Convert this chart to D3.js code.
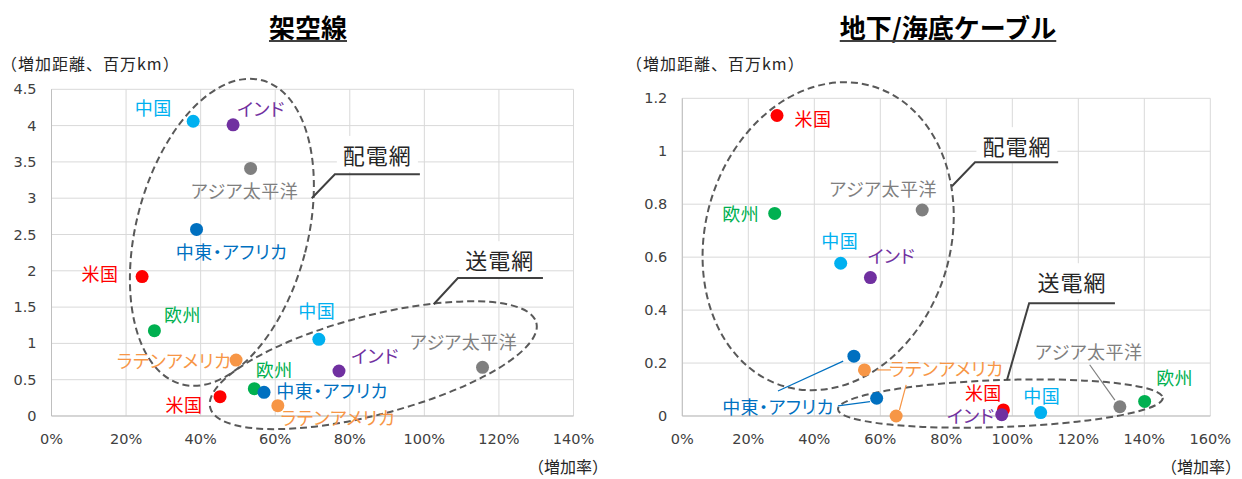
<!DOCTYPE html>
<html>
<head>
<meta charset="utf-8">
<script src="https://cdn.jsdelivr.net/npm/d3@7"></script>
<style>
  body { margin: 0; background: #fff; }
  svg { display: block; }
  text { font-family: "Noto Sans CJK JP", "Noto Sans", sans-serif; font-feature-settings: "palt" 1; }
  .tick-label { font-family: "DejaVu Sans", sans-serif; font-feature-settings: normal; }
</style>
</head>
<body>
<svg id="chart" width="1242" height="479"></svg>
<script>
// ---- data ----------------------------------------------------------------
const regions = ["米国", "欧州", "中国", "インド", "アジア太平洋", "中東・アフリカ", "ラテンアメリカ"];
const regionColors = ["#FF0000", "#00B050", "#00B0F0", "#7030A0", "#7F7F7F", "#0070C0", "#F79646"];

// 架空線: increase rate (%) and added length (million km)
const overheadDistRate  = [24.3, 27.6, 38.0, 48.7, 53.4, 38.9, 49.5];
const overheadDistLen   = [1.92, 1.175, 4.06, 4.01, 3.41, 2.57, 0.77];
const overheadTransRate = [45.2, 54.4, 71.7, 77.1, 115.6, 57.0, 60.7];
const overheadTransLen  = [0.266, 0.376, 1.056, 0.62, 0.67, 0.326, 0.142];

// 地下/海底ケーブル
const cableDistRate  = [28.7, 28.0, 48.0, 57.0, 72.7, 52.0, 55.2];
const cableDistLen   = [1.135, 0.765, 0.577, 0.523, 0.778, 0.226, 0.174];
const cableTransRate = [97.3, 140.1, 108.6, 96.8, 132.6, 58.9, 64.8];
const cableTransLen  = [0.023, 0.055, 0.013, 0.005, 0.035, 0.067, 0.0];

const overheadRateTicks = [0, 20, 40, 60, 80, 100, 120, 140];
const overheadLenTicks  = [0, 0.5, 1, 1.5, 2, 2.5, 3, 3.5, 4, 4.5];
const cableRateTicks = [0, 20, 40, 60, 80, 100, 120, 140, 160];
const cableLenTicks  = [0, 0.2, 0.4, 0.6, 0.8, 1, 1.2];

const panelTitles = ["架空線", "地下/海底ケーブル"];
const groupNames = ["配電網", "送電網"];
const yAxisTitle = "（増加距離、百万km）";
const xAxisTitle = "（増加率）";

// ---- drawing -------------------------------------------------------------
const svg = d3.select("#chart");

function rows(rate, len) {
  return regions.map((r, i) => ({ region: r, color: regionColors[i], x: rate[i], y: len[i] }));
}

// label placement (pixel offsets from each point)
const overheadLabels = {
  dist: {
    "中国": [-40, -14], "インド": [28, -17], "アジア太平洋": [-6, 22], "中東・アフリカ": [35, 22],
    "米国": [-42, -4], "欧州": [28, -17], "ラテンアメリカ": [-62, 0]
  },
  trans: {
    "中国": [-2, -29], "インド": [36, -16], "アジア太平洋": [-19, -26], "中東・アフリカ": [68, -2],
    "米国": [-36, 7], "欧州": [20, -20], "ラテンアメリカ": [60, 11]
  }
};
const cableLabels = {
  dist: {
    "米国": [36, 2], "欧州": [-34, 0], "アジア太平洋": [-39, -22], "中国": [-1, -23], "インド": [21, -23]
  },
  trans: {
    "米国": [-20, -18], "インド": [-31, 0], "中国": [1, -18], "アジア太平洋": [-31, -56], "欧州": [30, -24]
  }
};

const panels = [
  {
    title: panelTitles[0], titleX: 308,
    xRange: [51.5, 573.5], yRange: [416, 89.3],
    xDomain: [0, 140], yDomain: [0, 4.5],
    xTicks: overheadRateTicks, yTicks: overheadLenTicks,
    yTitleX: 1, xTitleX: 608,
    dist: rows(overheadDistRate, overheadDistLen),
    trans: rows(overheadTransRate, overheadTransLen),
    labels: overheadLabels,
    ellipses: [
      { cx: 45.7, cy: 2.53, rx: 85.6, ry: 157.2, rot: 14.8 },
      { cx: 86.3, cy: 0.70, rx: 168.5, ry: 49.4, rot: -14.6 }
    ],
    callouts: [
      { name: groupNames[0], path: [[69.8, 3.00], [76.0, 3.33], [98.8, 3.33]], text: [87.4, 3.61] },
      { name: groupNames[1], path: [[102.5, 1.54], [109.0, 1.90], [131.8, 1.90]], text: [120.2, 2.16] }
    ],
    shared: [],
    leaders: []
  },
  {
    title: panelTitles[1], titleX: 948,
    xRange: [682.3, 1210.3], yRange: [416, 98.3],
    xDomain: [0, 160], yDomain: [0, 1.2],
    xTicks: cableRateTicks, yTicks: cableLenTicks,
    yTitleX: 626, xTitleX: 1241,
    dist: rows(cableDistRate, cableDistLen),
    trans: rows(cableTransRate, cableTransLen),
    labels: cableLabels,
    ellipses: [
      { cx: 44.2, cy: 0.679, rx: 122.6, ry: 156.4, rot: 16.3 },
      { cx: 96.4, cy: 0.047, rx: 162.5, ry: 23.5, rot: -2 }
    ],
    callouts: [
      { name: groupNames[0], path: [[81.7, 0.868], [88.7, 0.958], [113.9, 0.958]], text: [101.4, 1.023] },
      { name: groupNames[1], path: [[98.4, 0.136], [105.1, 0.426], [131.1, 0.426]], text: [118.1, 0.509] }
    ],
    // one label shared by both groups, with a leader line to each point
    shared: [
      { region: "中東・アフリカ", from: "trans", off: [-98.7, 7.7],
        lines: [ { group: "dist", a: [0, -15], b: [-10.7, 5] }, { group: "trans", a: [60, 0], b: [-6.7, 3.4] } ] },
      { region: "ラテンアメリカ", from: "dist", off: [81.7, -2],
        lines: [ { group: "dist", a: [-55.3, 2], b: [12.7, 0] }, { group: "trans", a: [-40, 17], b: [3.3, -6] } ] }
    ],
    leaders: [ { region: "アジア太平洋", group: "trans", a: [0.8, 14], b: [-5, -6.7] } ]
  }
];

panels.forEach(p => {
  const x = d3.scaleLinear().domain(p.xDomain).range(p.xRange);
  const y = d3.scaleLinear().domain(p.yDomain).range(p.yRange);
  const g = svg.append("g");

  // title with underline
  const t = g.append("text")
    .attr("x", p.titleX).attr("y", 26.5)
    .attr("text-anchor", "middle").attr("dominant-baseline", "central")
    .attr("font-size", 26).attr("font-weight", "bold").attr("fill", "#000")
    .style("font-feature-settings", "normal")
    .text(p.title);
  const tb = t.node().getBBox();
  g.append("line")
    .attr("x1", tb.x).attr("x2", tb.x + tb.width)
    .attr("y1", 41).attr("y2", 41)
    .attr("stroke", "#404040").attr("stroke-width", 2);

  // grid
  g.append("g").selectAll("line.v").data(p.xTicks).join("line")
    .attr("x1", d => x(d)).attr("x2", d => x(d))
    .attr("y1", p.yRange[0]).attr("y2", p.yRange[1])
    .attr("stroke", "#D9D9D9").attr("stroke-width", 1);
  g.append("g").selectAll("line.h").data(p.yTicks).join("line")
    .attr("x1", p.xRange[0]).attr("x2", p.xRange[1])
    .attr("y1", d => y(d)).attr("y2", d => y(d))
    .attr("stroke", "#D9D9D9").attr("stroke-width", 1);
  // axis lines
  g.append("line").attr("x1", p.xRange[0]).attr("x2", p.xRange[1])
    .attr("y1", p.yRange[0]).attr("y2", p.yRange[0]).attr("stroke", "#BFBFBF");
  g.append("line").attr("x1", p.xRange[0]).attr("x2", p.xRange[0])
    .attr("y1", p.yRange[0]).attr("y2", p.yRange[1]).attr("stroke", "#BFBFBF");

  // tick labels
  g.append("g").selectAll("text").data(p.yTicks).join("text")
    .attr("class", "tick-label")
    .attr("x", p.xRange[0] - 15).attr("y", d => y(d))
    .attr("text-anchor", "end").attr("dominant-baseline", "central")
    .attr("font-size", 14.5).attr("fill", "#404040")
    .text(d => d3.format("~g")(d));
  g.append("g").selectAll("text").data(p.xTicks).join("text")
    .attr("class", "tick-label")
    .attr("x", d => x(d)).attr("y", 439)
    .attr("text-anchor", "middle").attr("dominant-baseline", "central")
    .attr("font-size", 14.5).attr("fill", "#404040")
    .text(d => d + "%");

  // axis titles
  g.append("text").attr("x", p.yTitleX).attr("y", 62.5)
    .attr("text-anchor", "start").attr("dominant-baseline", "central")
    .attr("font-size", 16).attr("letter-spacing", 1).attr("fill", "#262626")
    .style("font-feature-settings", "normal")
    .text(yAxisTitle);
  g.append("text").attr("x", p.xTitleX).attr("y", 466)
    .attr("text-anchor", "end").attr("dominant-baseline", "central")
    .attr("font-size", 16).attr("fill", "#262626")
    .style("font-feature-settings", "normal")
    .text(xAxisTitle);

  // dashed group ellipses
  p.ellipses.forEach(e => {
    const ex = x(e.cx), ey = y(e.cy);
    g.append("ellipse")
      .attr("cx", 0).attr("cy", 0).attr("rx", e.rx).attr("ry", e.ry)
      .attr("transform", `translate(${ex},${ey}) rotate(${e.rot})`)
      .attr("fill", "none").attr("stroke", "#595959")
      .attr("stroke-width", 2).attr("stroke-dasharray", "7,4");
  });

  // callouts naming each group
  p.callouts.forEach(c => {
    const txt = g.append("text")
      .attr("x", x(c.text[0])).attr("y", y(c.text[1]))
      .attr("text-anchor", "middle").attr("dominant-baseline", "central")
      .attr("font-size", 22).attr("letter-spacing", 1).attr("fill", "#262626")
      .style("font-feature-settings", "normal")
      .text(c.name);
    const bb = txt.node().getBBox();
    g.insert("rect", () => txt.node())
      .attr("x", bb.x - 6).attr("y", bb.y - 2)
      .attr("width", bb.width + 12).attr("height", bb.height + 4)
      .attr("fill", "#fff");
    g.append("path")
      .attr("d", d3.line().x(d => x(d[0])).y(d => y(d[1]))(c.path))
      .attr("fill", "none").attr("stroke", "#404040").attr("stroke-width", 2);
  });

  const byRegion = group => Object.fromEntries(p[group].map(d => [d.region, d]));
  const pts = { dist: byRegion("dist"), trans: byRegion("trans") };

  // leader lines
  p.leaders.forEach(l => {
    const d = pts[l.group][l.region];
    const off = p.labels[l.group][l.region];
    const px = x(d.x), py = y(d.y);
    g.append("line")
      .attr("x1", px + off[0] + l.a[0]).attr("y1", py + off[1] + l.a[1])
      .attr("x2", px + l.b[0]).attr("y2", py + l.b[1])
      .attr("stroke", d.color).attr("stroke-width", 1.2);
  });
  p.shared.forEach(s => {
    const base = pts[s.from][s.region];
    const lx = x(base.x) + s.off[0], ly = y(base.y) + s.off[1];
    s.lines.forEach(l => {
      const d = pts[l.group][s.region];
      g.append("line")
        .attr("x1", lx + l.a[0]).attr("y1", ly + l.a[1])
        .attr("x2", x(d.x) + l.b[0]).attr("y2", y(d.y) + l.b[1])
        .attr("stroke", d.color).attr("stroke-width", 1.2);
    });
    g.append("text")
      .attr("x", lx).attr("y", ly)
      .attr("text-anchor", "middle").attr("dominant-baseline", "central")
      .attr("font-size", 18).attr("letter-spacing", 0.5).attr("fill", base.color)
      .text(s.region);
  });

  // points and their labels
  ["dist", "trans"].forEach(group => {
    g.append("g").selectAll("circle").data(p[group]).join("circle")
      .attr("cx", d => x(d.x)).attr("cy", d => y(d.y)).attr("r", 6.5)
      .attr("fill", d => d.color);
    g.append("g").selectAll("text")
      .data(p[group].filter(d => p.labels[group][d.region]))
      .join("text")
      .attr("x", d => x(d.x) + p.labels[group][d.region][0])
      .attr("y", d => y(d.y) + p.labels[group][d.region][1])
      .attr("text-anchor", "middle").attr("dominant-baseline", "central")
      .attr("font-size", 18).attr("letter-spacing", 0.5).attr("fill", d => d.color)
      .text(d => d.region);
  });
});
</script>
</body>
</html>
